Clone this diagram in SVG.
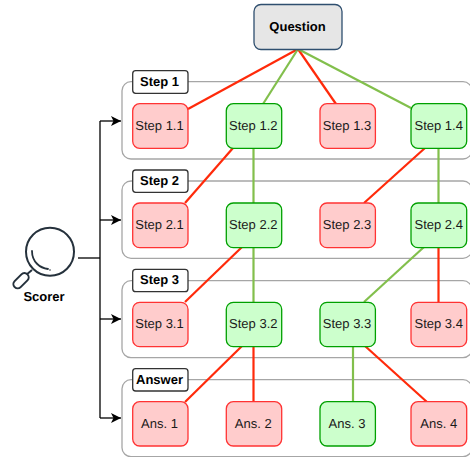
<svg xmlns="http://www.w3.org/2000/svg" width="470" height="457" viewBox="0 0 470 457">
<style>
text{font-family:"Liberation Sans",Arial,sans-serif;font-size:13px;fill:#1a1a1a;text-anchor:middle;dominant-baseline:central;text-rendering:geometricPrecision}
.b{font-weight:bold;fill:#000}
.box{fill:#fff;stroke:#a6a6a6;stroke-width:1.300}
.tag{fill:#fff;stroke:#333;stroke-width:1.300}
.r{fill:#ffcccc;stroke:#ff3333;stroke-width:1.300}
.g{fill:#ccffcc;stroke:#00a000;stroke-width:1.300}
.lr{stroke:#ff2a0a;stroke-width:2.200;fill:none}
.lg{stroke:#82bf4c;stroke-width:2.200;fill:none}
.k{stroke:#000;stroke-width:1.300;fill:none}
</style>
<defs><marker id="a" viewBox="0 0 11 10" refX="10" refY="5" markerWidth="11" markerHeight="10" markerUnits="userSpaceOnUse" orient="auto"><path d="M0 0L10 5L0 10L2.500 5Z" fill="#000"/></marker></defs>
<g id="containers">
<rect class="box" x="122" y="81.700" width="350" height="77.300" rx="9"/>
<rect class="box" x="122" y="181" width="350" height="77.300" rx="9"/>
<rect class="box" x="122" y="280.700" width="350" height="77" rx="9"/>
<rect class="box" x="122" y="379.700" width="350" height="77" rx="9"/>
</g>
<g id="connectors">
<path class="k" d="M78 258H100"/>
<path class="k" d="M100 121V418"/>
<path class="k" d="M100 121H121" marker-end="url(#a)"/>
<path class="k" d="M100 220H121" marker-end="url(#a)"/>
<path class="k" d="M100 319H121" marker-end="url(#a)"/>
<path class="k" d="M100 418H121" marker-end="url(#a)"/>
<path class="lr" d="M298 49L188 109"/>
<path class="lg" d="M298 49L263 104"/>
<path class="lr" d="M298 49L336 104"/>
<path class="lg" d="M298 49L411 108"/>
<path class="lr" d="M233 148L185 203"/>
<path class="lg" d="M253.500 148V203"/>
<path class="lr" d="M425 148L364 203"/>
<path class="lg" d="M438.500 148V203"/>
<path class="lr" d="M242 247L185 302"/>
<path class="lg" d="M253.500 247V302"/>
<path class="lg" d="M424 247L364 302"/>
<path class="lr" d="M438.500 247V302"/>
<path class="lr" d="M242 346L185 402"/>
<path class="lr" d="M253.500 346V402"/>
<path class="lg" d="M353 346V402"/>
<path class="lr" d="M365 346L427 402"/>
</g>
<g id="tag1"><rect class="tag" x="132.700" y="70.700" width="55.300" height="22.600" rx="3"/><text class="b" x="159.500" y="81.500">Step 1</text></g>
<g id="tag2"><rect class="tag" x="132.700" y="170" width="55.300" height="22.300" rx="3"/><text class="b" x="159.500" y="180.500">Step 2</text></g>
<g id="tag3"><rect class="tag" x="132.700" y="269.300" width="55.300" height="22.400" rx="3"/><text class="b" x="159.500" y="279.500">Step 3</text></g>
<g id="tag4"><rect class="tag" x="132.700" y="368.700" width="55.300" height="22.300" rx="3"/><text class="b" x="159.500" y="379.500">Answer</text></g>
<g id="question"><rect x="254" y="4.500" width="88" height="45" rx="7" fill="#e6e6e6" stroke="#2f4f6f" stroke-width="1.300"/><text class="b" x="297.500" y="26.500">Question</text></g>
<g id="scorer">
<circle cx="50" cy="251.700" r="24" fill="#fff" stroke="#25313c" stroke-width="2"/>
<path d="M32 251C32 262 40 268 48 269" fill="none" stroke="#25313c" stroke-width="1.800" stroke-linecap="round"/>
<circle cx="50" cy="270" r="0.800" fill="#25313c"/>
<path d="M32 270L26 275" stroke="#25313c" stroke-width="2" fill="none"/>
<rect x="12" y="276.500" width="18" height="8.500" rx="4.200" transform="rotate(-45 21 280.700)" fill="#fff" stroke="#25313c" stroke-width="2"/>
<text class="b" x="44" y="296.500">Scorer</text>
</g>
<g id="s11"><rect class="r" x="132.700" y="103.700" width="55.300" height="44.600" rx="7"/><text x="159.500" y="125.500">Step 1.1</text></g>
<g id="s12"><rect class="g" x="226.300" y="103.700" width="55.400" height="44.600" rx="7"/><text x="253.300" y="125.500">Step 1.2</text></g>
<g id="s13"><rect class="r" x="320" y="103.700" width="55.400" height="44.600" rx="7"/><text x="347" y="125.500">Step 1.3</text></g>
<g id="s14"><rect class="g" x="411" y="103.700" width="55.700" height="44.600" rx="7"/><text x="438.700" y="125.500">Step 1.4</text></g>
<g id="s21"><rect class="r" x="132.700" y="203" width="55.300" height="44.700" rx="7"/><text x="159.500" y="224.500">Step 2.1</text></g>
<g id="s22"><rect class="g" x="226.300" y="203" width="55.400" height="44.700" rx="7"/><text x="253.300" y="224.500">Step 2.2</text></g>
<g id="s23"><rect class="r" x="320" y="203" width="55.400" height="44.700" rx="7"/><text x="347" y="224.500">Step 2.3</text></g>
<g id="s24"><rect class="g" x="411" y="203" width="55.700" height="44.700" rx="7"/><text x="438.700" y="224.500">Step 2.4</text></g>
<g id="s31"><rect class="r" x="132.700" y="302.300" width="55.300" height="44.400" rx="7"/><text x="159.500" y="323.500">Step 3.1</text></g>
<g id="s32"><rect class="g" x="226.300" y="302.300" width="55.400" height="44.400" rx="7"/><text x="253.300" y="323.500">Step 3.2</text></g>
<g id="s33"><rect class="g" x="320" y="302.300" width="55.400" height="44.400" rx="7"/><text x="347" y="323.500">Step 3.3</text></g>
<g id="s34"><rect class="r" x="411" y="302.300" width="55.700" height="44.400" rx="7"/><text x="438.700" y="323.500">Step 3.4</text></g>
<g id="a1"><rect class="r" x="132.700" y="401.700" width="55.300" height="44.300" rx="7"/><text x="159.500" y="423.500">Ans. 1</text></g>
<g id="a2"><rect class="r" x="226.300" y="401.700" width="55.400" height="44.300" rx="7"/><text x="253.300" y="423.500">Ans. 2</text></g>
<g id="a3"><rect class="g" x="320" y="401.700" width="55.400" height="44.300" rx="7"/><text x="347" y="423.500">Ans. 3</text></g>
<g id="a4"><rect class="r" x="411" y="401.700" width="55.700" height="44.300" rx="7"/><text x="438.700" y="423.500">Ans. 4</text></g>
</svg>
